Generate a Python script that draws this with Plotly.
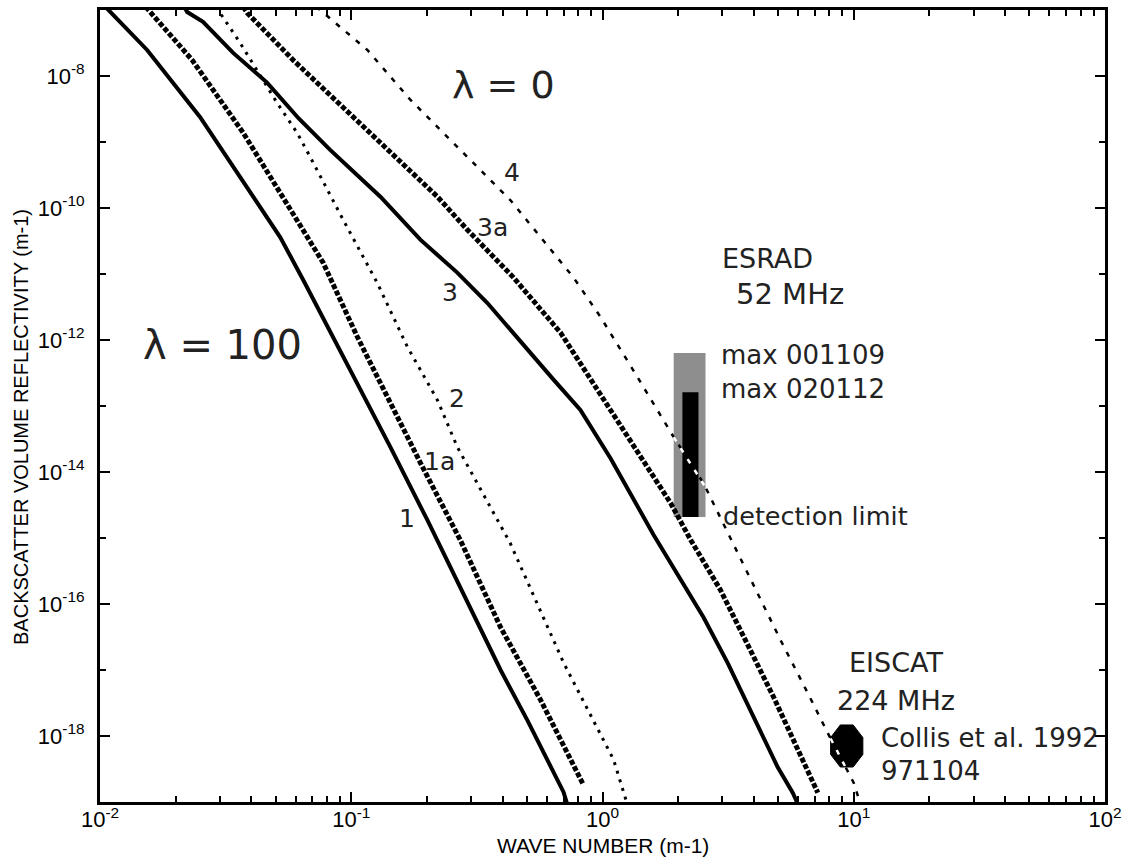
import numpy as np
import plotly.graph_objects as go

# ---------------- data ----------------
# Curve 1 (solid)
k1 = [0.0105, 0.0154, 0.0250, 0.0396, 0.0521, 0.0644, 0.0991, 0.143, 0.201, 0.248, 0.393, 0.502, 0.700, 0.733]
r1 = [1.12e-7, 2.48e-8, 2.40e-9, 1.70e-10, 3.63e-11, 8.13e-12, 3.55e-13, 2.40e-14, 1.86e-15, 3.63e-16,
      1.0e-17, 1.74e-18, 1.41e-19, 7.9e-20]
# Curve 1a (heavy dashed)
k1a = [0.0152, 0.01626, 0.02328, 0.03715, 0.0537, 0.0773, 0.1057, 0.1429, 0.1884, 0.2716, 0.3926, 0.5662, 0.8166, 0.8395]
r1a = [1.12e-7, 8.39e-8, 1.74e-8, 1.38e-9, 1.41e-10, 1.48e-11, 1.12e-12, 1.12e-13, 1.38e-14, 9.33e-16,
       4.47e-17, 3.55e-18, 2.14e-19, 1.82e-19]
# Curve 2 (dotted)
k2 = [0.02897, 0.03006, 0.03614, 0.05070, 0.06095, 0.06871, 0.09290, 0.1271, 0.1671, 0.2203, 0.2642, 0.4295,
      0.6998, 1.107, 1.259]
r2 = [1.11e-7, 9.02e-8, 3.16e-8, 3.90e-9, 1.37e-9, 5.89e-10, 6.61e-11, 7.24e-12, 7.94e-13, 1.23e-13, 2.40e-14,
      8.32e-16, 1.29e-17, 4.37e-19, 8.91e-20]
# Curve 3 (solid)
k3 = [0.02163, 0.02223, 0.02570, 0.03388, 0.04624, 0.06166, 0.08241, 0.1306, 0.1884, 0.2642, 0.3483, 0.5023,
      0.6383, 0.8166, 1.076, 1.596, 2.523, 3.148, 4.977, 5.715, 6.026]
r3 = [1.12e-7, 9.33e-8, 6.61e-8, 2.24e-8, 7.94e-9, 2.29e-9, 7.59e-10, 1.48e-10, 3.31e-11, 1.05e-11, 3.63e-12,
      7.08e-13, 2.51e-13, 8.71e-14, 1.62e-14, 1.12e-15, 6.31e-17, 1.28e-17, 3.39e-19, 1.38e-19, 8.91e-20]
# Curve 3a (heavy dashed)
k3a = [0.03715, 0.03855, 0.05875, 0.1159, 0.2203, 0.2897, 0.4416, 0.6808, 0.8166, 1.866, 2.244, 2.951, 4.797,
       6.152, 7.194]
r3a = [1.12e-7, 9.02e-8, 1.74e-8, 1.51e-9, 1.48e-10, 4.68e-11, 8.91e-12, 1.29e-12, 4.47e-13, 3.39e-15, 9.33e-16,
       1.62e-16, 3.89e-18, 4.79e-19, 1.38e-19]
# Curve 4 (dotted)
k4 = [0.07244, 0.07516, 0.1159, 0.1718, 0.2410, 0.3357, 0.4295, 0.7656, 0.9817, 1.377, 1.919, 2.523, 3.148,
      4.0, 5.117, 6.561, 7.870, 10.0, 10.67]
r4 = [1.12e-7, 1.0e-7, 2.48e-8, 4.37e-9, 1.20e-9, 3.39e-10, 1.32e-10, 8.91e-12, 2.24e-12, 2.75e-13, 3.39e-14,
      6.76e-15, 1.20e-15, 1.82e-16, 2.82e-17, 4.47e-18, 1.12e-18, 1.95e-19, 8.91e-20]

# ESRAD 52 MHz observed ranges
esrad_gray_k = [1.92, 2.57]
esrad_gray_r = [2.08e-15, 6.35e-13]
esrad_black_k = [2.08, 2.41]
esrad_black_r = [2.08e-15, 1.62e-13]
# EISCAT 224 MHz (Collis et al. 1992)
eiscat_k = [8.09, 10.87]
eiscat_r = [3.39e-19, 1.47e-18]

x_tick_vals = [1e-2, 1e-1, 1e0, 1e1, 1e2]
x_tick_text = ["10<sup>-2</sup>", "10<sup>-1</sup>", "10<sup>0</sup>", "10<sup>1</sup>", "10<sup>2</sup>"]
y_tick_vals = [1e-18, 1e-16, 1e-14, 1e-12, 1e-10, 1e-8]
y_tick_text = ["10<sup>-18</sup>", "10<sup>-16</sup>", "10<sup>-14</sup>", "10<sup>-12</sup>",
               "10<sup>-10</sup>", "10<sup>-8</sup>"]

# ---------------- figure ----------------
fig = go.Figure()

def rect(kr, rr, color):
    fig.add_trace(go.Scatter(x=[kr[0], kr[1], kr[1], kr[0], kr[0]],
                             y=[rr[0], rr[0], rr[1], rr[1], rr[0]],
                             fill="toself", fillcolor=color, mode="none",
                             hoverinfo="skip", showlegend=False))

rect(esrad_gray_k, esrad_gray_r, "rgb(142,142,142)")
rect(esrad_black_k, esrad_black_r, "black")

# EISCAT blob (octagon spanning the observed range)
lx0, lx1 = np.log10(eiscat_k)
ly0, ly1 = np.log10(eiscat_r)
w, h, c = lx1 - lx0, ly1 - ly0, 0.3
ox = [lx0 + c * w, lx1 - c * w, lx1, lx1, lx1 - c * w, lx0 + c * w, lx0, lx0, lx0 + c * w]
oy = [ly0, ly0, ly0 + c * h, ly1 - c * h, ly1, ly1, ly1 - c * h, ly0 + c * h, ly0]
fig.add_trace(go.Scatter(x=10 ** np.array(ox), y=10 ** np.array(oy), fill="toself", fillcolor="black",
                         mode="lines", line=dict(color="black", width=1), hoverinfo="skip", showlegend=False))

curve_styles = [
    (k1, r1, dict(color="black", width=4)),
    (k1a, r1a, dict(color="black", width=5, dash="5px,2px")),
    (k2, r2, dict(color="black", width=3, dash="3px,6px")),
    (k3, r3, dict(color="black", width=4)),
    (k3a, r3a, dict(color="black", width=5, dash="5px,2px")),
    (k4, r4, dict(color="black", width=2.5, dash="5px,8px")),
]
for kk, rr, ln in curve_styles:
    fig.add_trace(go.Scatter(x=kk, y=rr, mode="lines", line=ln, hoverinfo="skip", showlegend=False))

# curve 4 drawn in white where it crosses the filled marks
def white_part(kr):
    lk = np.log10(k4)
    lr = np.log10(r4)
    a, b = np.log10(kr)
    inner = [(x, y) for x, y in zip(lk, lr) if a < x < b]
    pts = [(a, np.interp(a, lk, lr))] + inner + [(b, np.interp(b, lk, lr))]
    xs = [10 ** p[0] for p in pts]
    ys = [10 ** p[1] for p in pts]
    fig.add_trace(go.Scatter(x=xs, y=ys, mode="lines", line=dict(color="white", width=2.5, dash="5px,8px"),
                             hoverinfo="skip", showlegend=False))

white_part(esrad_gray_k)
white_part(eiscat_k)

# ---------------- text labels (positions in log10 data units) ----------------
lab_font = "DejaVu Sans"
labels = [
    ("λ = 0", -0.394, -8.136, 38, "center"),
    ("λ = 100", -1.514, -12.076, 40, "center"),
    ("4", -0.359, -9.455, 25, "center"),
    ("3a", -0.438, -10.288, 25, "center"),
    ("3", -0.606, -11.273, 25, "center"),
    ("2", -0.578, -12.879, 25, "center"),
    ("1a", -0.649, -13.848, 25, "center"),
    ("1", -0.777, -14.697, 25, "center"),
    ("ESRAD", 0.655, -10.758, 27, "center"),
    ("52 MHz", 0.745, -11.303, 29, "center"),
    ("EISCAT", 1.167, -16.879, 27, "center"),
    ("224 MHz", 1.167, -17.455, 27, "center"),
    ("max 001109", 0.462, -12.227, 26, "left"),
    ("max 020112", 0.462, -12.742, 26, "left"),
    ("detection limit", 0.470, -14.667, 25.5, "left"),
    ("Collis et al. 1992", 1.100, -18.03, 26, "left"),
    ("971104", 1.100, -18.53, 26, "left"),
]
for txt, lx, ly, size, anchor in labels:
    fig.add_annotation(x=lx, y=ly, xref="x", yref="y", text=txt, showarrow=False,
                       xanchor=anchor, yanchor="middle",
                       font=dict(family=lab_font, size=size, color="#222"))

# axis titles
fig.add_annotation(x=0.5005, y=-0.055, xref="paper", yref="paper", text="WAVE NUMBER (m-1)",
                   showarrow=False, xanchor="center", yanchor="middle",
                   font=dict(family="Liberation Sans", size=21, color="black"))
fig.add_annotation(x=-0.0786, y=0.4735, xref="paper", yref="paper",
                   text="BACKSCATTER VOLUME REFLECTIVITY (m-1)", textangle=-90,
                   showarrow=False, xanchor="center", yanchor="middle",
                   font=dict(family="Liberation Sans", size=20, color="black"))

x_minor = [m * 10.0 ** e for e in range(-2, 2) for m in range(2, 10)]
y_minor = [10.0 ** e for e in range(-17, -7, 2)]

axis_common = dict(showline=True, linecolor="black", linewidth=3, mirror="ticks",
                   ticks="inside", ticklen=10, tickwidth=2, tickcolor="black",
                   showgrid=False, zeroline=False,
                   tickfont=dict(family="Liberation Sans", size=22, color="black"))

fig.update_xaxes(type="log", range=[-2, 2], tickmode="array", tickvals=x_tick_vals, ticktext=x_tick_text,
                 minor=dict(tickvals=x_minor, ticks="inside", ticklen=6, tickwidth=2, tickcolor="black"),
                 ticklabelstandoff=-4, **axis_common)
fig.update_yaxes(type="log", range=[-19, -7], tickmode="array", tickvals=y_tick_vals, ticktext=y_tick_text,
                 minor=dict(tickvals=y_minor, ticks="inside", ticklen=6, tickwidth=2, tickcolor="black"),
                 ticklabelstandoff=8, **axis_common)

fig.update_layout(width=1127, height=858, margin=dict(l=100, r=22, t=10, b=56, autoexpand=False),
                  plot_bgcolor="white", paper_bgcolor="white", showlegend=False)

fig.write_html("out.html")
